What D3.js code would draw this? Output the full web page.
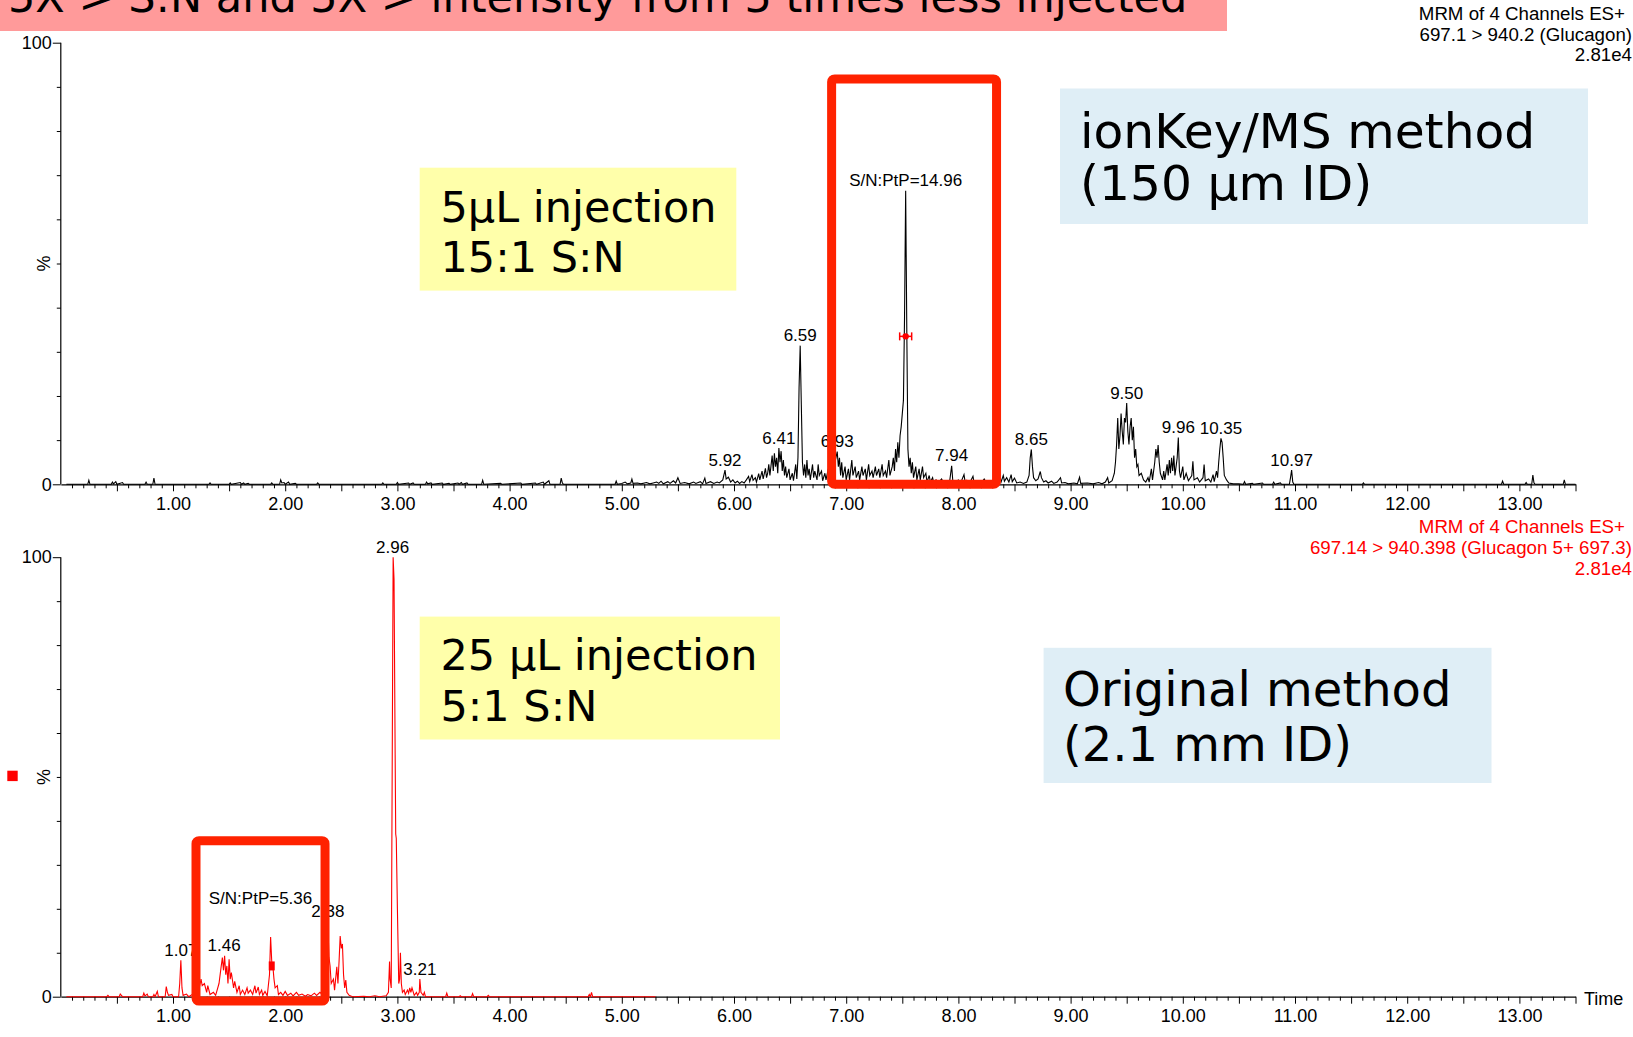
<!DOCTYPE html>
<html><head><meta charset="utf-8">
<script src="https://cdn.jsdelivr.net/npm/d3@7"></script>
<style>body{margin:0;background:#fff;overflow:hidden}svg{display:block}</style>
</head><body><svg id="c" width="1633" height="1037"></svg>
<script>
// ---------- DATA ----------
const topTrace = [[0.05,0],[0.24,0],[0.25,0.9],[0.26,0],[0.45,0],[0.46,0.5],[0.47,0.1],[0.49,0.6],[0.5,0],[0.55,0.4],[0.56,0],[0.75,0],[0.76,0.5],[0.77,0],[0.82,0],[0.83,1.4],[0.84,0],[1.32,0],[1.33,0.3],[1.34,0],[1.5,0],[1.51,0.3],[1.52,0],[1.6,0.4],[1.61,0],[1.63,0.3],[1.64,0],[1.67,0.2],[1.68,0],[1.87,0],[1.88,0.3],[1.89,0],[1.95,0],[1.96,1.0],[1.97,0.3],[1.99,0.4],[2.0,0],[2.03,0.5],[2.04,0],[2.09,0.2],[2.1,0],[2.28,0],[2.29,0.3],[2.3,0],[2.86,0],[2.87,0.3],[2.88,0],[2.99,0],[3.0,0.4],[3.01,0],[3.1,0.3],[3.11,0],[3.14,0.3],[3.15,0],[3.25,0],[3.26,0.5],[3.27,0.1],[3.3,0.3],[3.31,0],[3.4,0.3],[3.41,0],[3.46,0.2],[3.47,0],[3.54,0.3],[3.55,0],[3.57,0.4],[3.58,0],[3.62,0.3],[3.63,0],[3.75,0],[3.76,0.9],[3.77,0],[3.92,0.2],[3.93,0],[4.1,0.3],[4.11,0],[4.23,0.3],[4.24,0],[4.3,0.5],[4.31,0],[4.35,0.8],[4.36,0],[4.45,0],[4.46,1.4],[4.47,0.3],[4.48,0],[4.94,0],[4.95,0.7],[4.96,0],
[5.0,0.2],[5.03,0.5],[5.05,0.1],[5.08,0.3],[5.09,1.2],[5.1,0.2],[5.14,0.3],[5.17,0.1],[5.22,0.4],[5.25,0.1],[5.28,0.3],[5.31,0.5],[5.33,0.2],[5.35,0.7],[5.37,0.1],[5.41,0.6],[5.43,0.2],[5.46,0.8],[5.48,0.3],[5.5,1.5],[5.52,0.2],[5.56,0.4],[5.6,0.1],[5.64,0.5],[5.66,0.2],[5.7,0.6],[5.72,0.1],[5.74,1.4],[5.75,0.2],[5.79,0.6],[5.82,0.2],[5.85,0.5],[5.87,0.3],[5.9,1.0],[5.92,3.2],[5.93,1.2],[5.95,1.6],[5.97,0.5],[5.99,1.0],[6.01,0.3],[6.03,0.7],[6.05,0.2],[6.07,0.6],[6.09,0.3],[6.11,1.0],[6.13,1.8],[6.14,0.6],[6.16,2.2],[6.17,0.9],[6.19,1.5],[6.2,0.5],[6.22,2.4],[6.23,1.0],[6.25,3.0],[6.26,1.2],[6.28,3.6],[6.29,1.5],[6.3,2.5],[6.31,4.5],[6.32,2.0],[6.34,6.5],[6.35,3.0],[6.36,7.0],[6.37,4.0],[6.38,6.0],[6.39,2.5],[6.4,8.2],[6.41,5.0],[6.42,7.5],[6.43,3.0],[6.44,5.5],[6.45,2.0],[6.46,4.0],[6.47,1.5],[6.49,3.5],[6.5,1.0],[6.52,2.5],[6.53,0.8],[6.55,4.5],[6.56,1.2],[6.57,6],[6.58,22],[6.59,31.4],[6.6,18],[6.61,5],[6.62,2],[6.63,4.5],[6.64,1.5],[6.65,5.5],[6.66,2],[6.67,3.5],[6.68,1],[6.7,4.5],[6.71,1.5],[6.72,3],[6.74,1],[6.75,4.5],[6.76,2],[6.78,3],[6.79,0.8],[6.81,2.5],[6.82,1],[6.84,3.5],[6.85,1.5],[6.87,4.5],[6.88,2],[6.9,5],[6.92,7.4],[6.93,4],[6.94,6],[6.95,2],[6.96,5],[6.97,1.5],[6.99,4],[7.0,1],[7.02,3.5],[7.03,1],[7.05,5.5],[7.06,2],[7.08,4],[7.09,1.5],[7.11,3],[7.12,1],[7.14,4],[7.15,2],[7.17,3.5],[7.18,1],[7.2,4.5],[7.21,2],[7.23,3],[7.24,1.5],[7.26,4],[7.27,2],[7.29,3.5],[7.3,1.5],[7.32,4.5],[7.33,2],[7.35,3],[7.36,1.5],[7.38,5.5],[7.39,2],[7.41,4],[7.42,6],[7.43,3],[7.44,8],[7.45,5],[7.46,9.5],[7.47,6],[7.48,11],[7.49,13],[7.5,16],[7.51,19],[7.52,38],[7.53,66.5],[7.54,35],[7.55,8],[7.56,4],[7.57,6],[7.58,2.5],[7.59,5],[7.6,1.5],[7.62,4],[7.63,1],[7.65,3.5],[7.66,1],[7.68,4],[7.69,1.5],[7.71,2.5],[7.72,0.5],[7.74,2],[7.75,0.5],[7.77,1.5],[7.78,0.3],[7.8,1],[7.82,0.3],[7.85,1.2],[7.87,0.3],[7.9,0.8],[7.92,0.3],[7.94,4.2],[7.95,0.8],[7.97,0.5],[8.0,1],[8.02,0.3],[8.05,2.2],[8.06,0.5],[8.08,0.8],[8.1,0.3],[8.13,1.8],[8.14,0.3],[8.17,0.6],[8.2,0.2],[8.23,1.2],[8.25,0.3],[8.28,0.7],[8.3,0.2],[8.33,1.5],[8.35,0.5],[8.37,1.8],[8.38,0.5],[8.4,2],[8.41,0.7],[8.43,1.5],[8.45,0.5],[8.47,2.2],[8.48,0.6],[8.5,1.4],[8.52,0.3],[8.55,0.5],[8.58,0.2],[8.61,0.5],[8.63,2],[8.64,6],[8.65,7.9],[8.66,4],[8.67,1.5],[8.69,0.8],[8.71,1.2],[8.73,2.9],[8.74,1.5],[8.76,0.5],[8.78,0.8],[8.8,0.3],[8.83,0.7],[8.85,0.2],[8.88,0.5],[8.91,1.5],[8.92,0.3],[8.95,0.4],[8.98,0.1],[9.03,0.3],[9.06,0.1],[9.08,1.6],[9.09,0.2],[9.15,0.3],[9.2,0.1],[9.25,0.4],[9.28,0.1],[9.31,0.5],[9.33,1.5],[9.34,0.3],[9.37,0.8],[9.39,2.5],[9.4,5],[9.41,9],[9.42,15],[9.43,8],[9.44,11],[9.45,16],[9.46,12],[9.47,9],[9.48,15],[9.49,14],[9.5,18.4],[9.51,12],[9.52,9],[9.53,13],[9.54,15],[9.55,10],[9.56,13],[9.57,6],[9.58,8],[9.59,4],[9.6,4.5],[9.61,2],[9.63,2.5],[9.65,1],[9.67,0.5],[9.69,1.5],[9.7,0.5],[9.72,3.5],[9.73,1],[9.75,5],[9.76,8],[9.77,6],[9.78,8.9],[9.79,5],[9.8,2.5],[9.82,1],[9.83,3],[9.84,1],[9.86,4.5],[9.87,2],[9.88,5.5],[9.89,2.5],[9.9,6],[9.91,3],[9.92,6.5],[9.93,2],[9.94,4],[9.95,6],[9.96,10.6],[9.97,3],[9.98,1.5],[10.0,4],[10.01,1],[10.03,2.5],[10.05,0.8],[10.08,2],[10.09,5.2],[10.1,1],[10.13,1.5],[10.15,0.5],[10.18,1.5],[10.19,4.5],[10.2,0.8],[10.23,1.2],[10.25,0.5],[10.27,2.2],[10.28,0.6],[10.3,3],[10.31,1.5],[10.32,5],[10.33,8],[10.34,10.4],[10.35,9.5],[10.36,6],[10.37,2],[10.39,1],[10.41,0.3],[10.45,0.1],[10.5,0.1],[10.54,0],[10.55,0.6],[10.56,0],[10.62,0.2],[10.63,0],[10.71,0.3],[10.72,0],[10.8,0],[10.81,0.5],[10.82,0],[10.87,0.3],[10.88,0],[10.95,0],[10.96,1.5],[10.97,3.2],[10.98,0.5],[10.99,0],[11.6,0],[11.61,0.3],[11.62,0],[12.84,0],[12.85,0.7],[12.86,0],[13.05,0],[13.06,0.4],[13.07,0],[13.11,0],[13.12,2.1],[13.13,0.3],[13.14,0],[13.39,0],[13.4,1.0],[13.41,0],[13.5,0]];

const bottomTrace = [[0.05,0],[0.41,0],[0.42,0.3],[0.43,0],[0.52,0],[0.53,0.6],[0.54,0.3],[0.55,0],[0.73,0],[0.74,0.8],[0.75,0.2],[0.77,0.6],[0.78,0],[0.82,0],[0.83,0.5],[0.84,0],[0.86,1.2],[0.87,0],[0.93,0],[0.94,2.3],[0.95,1],[0.96,0.3],[0.99,0.5],[1.0,0],[1.05,0],[1.06,3],[1.07,8.3],[1.08,2],[1.09,0.3],[1.12,0.6],[1.14,0],[1.17,0.5],[1.2,0.2],[1.23,1.5],[1.25,4],[1.26,2.5],[1.28,3],[1.3,1],[1.31,2.5],[1.33,0.5],[1.36,1],[1.38,0.3],[1.41,3],[1.43,7],[1.44,8.9],[1.45,6],[1.46,9.3],[1.47,5],[1.48,7],[1.49,3],[1.5,8.5],[1.51,4],[1.52,5.5],[1.54,2],[1.55,3.5],[1.57,1],[1.59,2.5],[1.6,0.5],[1.62,1.5],[1.64,0.5],[1.66,2],[1.67,0.8],[1.69,1.5],[1.71,0.5],[1.73,2.5],[1.74,0.8],[1.76,2.2],[1.77,0.5],[1.79,1.5],[1.8,0.3],[1.82,1.2],[1.84,0.2],[1.86,5],[1.87,13.6],[1.88,8],[1.89,7],[1.9,4],[1.91,2],[1.93,2.5],[1.94,0.5],[1.96,1],[1.98,0.3],[2.0,1.2],[2.02,0.3],[2.05,0.8],[2.07,0.2],[2.1,1],[2.12,0.3],[2.15,0.6],[2.18,0.1],[2.2,0.5],[2.23,0.2],[2.26,0.8],[2.28,0.3],[2.31,1],[2.33,0.5],[2.35,5],[2.37,12],[2.38,17],[2.39,9],[2.4,7],[2.41,3],[2.43,4],[2.44,1.5],[2.46,6.8],[2.47,3],[2.48,8],[2.49,13.8],[2.5,11],[2.51,12],[2.52,5],[2.53,2],[2.54,3.8],[2.55,1],[2.57,0.3],[2.6,0],[2.7,0.1],[2.75,0],[2.8,0.2],[2.84,0],[2.9,0.2],[2.92,1],[2.93,8],[2.935,4],[2.945,2],[2.955,60],[2.962,100],[2.97,95],[2.98,55],[2.985,37],[2.99,36],[3.0,20],[3.012,3],[3.02,4],[3.027,10],[3.035,3],[3.045,1],[3.06,1.5],[3.07,0.5],[3.09,1.5],[3.1,0.8],[3.11,2],[3.12,1],[3.13,2],[3.15,0.3],[3.17,1],[3.18,0.3],[3.195,1],[3.2,4],[3.21,1],[3.23,0.3],[3.24,1],[3.25,0],[3.43,0],[3.44,0.8],[3.45,0],[3.55,0],[3.56,0.2],[3.57,0],[3.66,0],[3.67,0.7],[3.68,0],[3.8,0],[3.81,0.3],[3.82,0],[4.7,0],[4.71,0.5],[4.72,0],[4.73,1.0],[4.74,0],[5.3,0]];

const topPeakLabels = [[5.92,3.2,"5.92"],[6.40,8.2,"6.41"],[6.59,31.4,"6.59"],[6.92,7.4,"6.93"],[7.53,66.5,"S/N:PtP=14.96"],[7.94,4.2,"7.94"],[8.65,7.9,"8.65"],[9.50,18.4,"9.50"],[9.96,10.6,"9.96"],[10.34,10.4,"10.35"],[10.97,3.2,"10.97"]];
const bottomPeakLabels = [[2.957,100,"2.96"],[1.07,8.3,"1.07"],[1.455,9.3,"1.46"],[1.78,20.1,"S/N:PtP=5.36"],[2.38,17,"2.38"],[3.2,4,"3.21"]];

const xTickLabels = ["1.00","2.00","3.00","4.00","5.00","6.00","7.00","8.00","9.00","10.00","11.00","12.00","13.00"];
const yTickLabels = ["0","100"];

// highlight boxes [t0, t1, v0, v1]
const topHighlight = [6.87, 8.34, 0, 91.8];
const bottomHighlight = [1.205, 2.355, -1, 35.5];

const titleText = "5X > S:N and 5X > intensity from 5 times less injected";
const topHeader = ["MRM of 4 Channels ES+","697.1 > 940.2 (Glucagon)","2.81e4"];
const bottomHeader = ["MRM of 4 Channels ES+","697.14 > 940.398 (Glucagon 5+ 697.3)","2.81e4"];
const noteTopYellow = ["5μL injection","15:1 S:N"];
const noteTopBlue = ["ionKey/MS method","(150 μm ID)"];
const noteBotYellow = ["25 μL injection","5:1 S:N"];
const noteBotBlue = ["Original method","(2.1 mm ID)"];

// ---------- DRAW ----------
const svg = d3.select("#c");
const AX = "Liberation Sans, Arial, sans-serif";
const VF = "DejaVu Sans, Verdana, sans-serif";
const x = d3.scaleLinear().domain([0,13.5]).range([60.8,1575.5]);
const yTop = d3.scaleLinear().domain([0,100]).range([484.3,42.7]);
const yBot = d3.scaleLinear().domain([0,100]).range([996.7,557.2]);

// title banner
svg.append("rect").attr("x",0).attr("y",0).attr("width",1227).attr("height",31).attr("fill","#ff9a9a");
svg.append("text").attr("x",8).attr("y",12).attr("font-family",VF).attr("font-size",43).attr("fill","#000").text(titleText);

function axes(y, showTime){
  const minor = d3.range(1,136).filter(i=>i%5!==0).map(i=>i/10);
  const half = d3.range(1,28).map(i=>i/2);
  const gx = svg.append("g").attr("transform",`translate(0,${y(0)})`);
  gx.append("g").call(d3.axisBottom(x).tickValues(minor).tickSize(4).tickFormat("")).call(g=>g.select(".domain").remove());
  gx.append("g").call(d3.axisBottom(x).tickValues(half).tickSize(7).tickFormat("")).call(g=>g.select(".domain").remove());
  const lab = gx.append("g").call(d3.axisBottom(x).tickValues(xTickLabels.map(Number)).tickSize(0).tickPadding(13).tickFormat((d,i)=>xTickLabels[i]));
  lab.select(".domain").attr("stroke-width",1.2);
  lab.attr("font-family",AX).attr("font-size",18);
  lab.selectAll("text").attr("fill","#000");
  const gy = svg.append("g").attr("transform",`translate(${x(0)},0)`);
  gy.append("g").call(d3.axisLeft(y).tickValues(d3.range(10,100,10)).tickSize(4).tickFormat("")).call(g=>g.select(".domain").attr("d",`M0,${y(0)}V${y(100)}`).attr("stroke-width",1.2));
  const yl = gy.append("g").call(d3.axisLeft(y).tickValues(yTickLabels.map(Number)).tickSize(8).tickPadding(1).tickFormat((d,i)=>yTickLabels[i]));
  yl.select(".domain").remove();
  yl.attr("font-family",AX).attr("font-size",18);
  svg.append("text").attr("transform",`translate(50,${y(50)}) rotate(-90)`).attr("text-anchor","middle")
    .attr("font-family",AX).attr("font-size",18).text("%");
  if(showTime){
    svg.append("text").attr("x",1584).attr("y",y(0)+8).attr("font-family",AX).attr("font-size",18).text("Time");
  }
}
axes(yTop,false);
axes(yBot,true);

const lineTop = d3.line().x(d=>x(d[0])).y(d=>yTop(d[1]));
const lineBot = d3.line().x(d=>x(d[0])).y(d=>yBot(d[1]));
svg.append("path").attr("d",lineTop(topTrace)).attr("fill","none").attr("stroke","#000").attr("stroke-width",1.1);
svg.append("path").attr("d",lineBot(bottomTrace)).attr("fill","none").attr("stroke","#ff0000").attr("stroke-width",1.1);

function peakLabels(arr,y){
  svg.append("g").selectAll("text").data(arr).join("text")
    .attr("x",d=>x(d[0])).attr("y",d=>y(d[1])-4.5).attr("text-anchor","middle")
    .attr("font-family",AX).attr("font-size",17).attr("fill","#000").text(d=>d[2]);
}
peakLabels(topPeakLabels,yTop);
peakLabels(bottomPeakLabels,yBot);

// markers
const hx = x(7.53), hy = yTop(33.5);
const mk = svg.append("g").attr("stroke","#ff0000").attr("fill","#ff0000");
mk.append("line").attr("x1",hx-6).attr("x2",hx+6).attr("y1",hy).attr("y2",hy).attr("stroke-width",1.5);
mk.append("line").attr("x1",hx-6).attr("x2",hx-6).attr("y1",hy-4).attr("y2",hy+4).attr("stroke-width",1.5);
mk.append("line").attr("x1",hx+6).attr("x2",hx+6).attr("y1",hy-4).attr("y2",hy+4).attr("stroke-width",1.5);
mk.append("circle").attr("cx",hx).attr("cy",hy).attr("r",3.2).attr("stroke","none");
[7.79,8.06].forEach(t=>{
  const px=x(t), py=yTop(0);
  svg.append("path").attr("d",`M${px-4},${py-1}L${px+2},${py-5}L${px+2},${py+1}Z`).attr("fill","#ff0000");
});
svg.append("rect").attr("x",x(1.88)-3).attr("y",yBot(7)-4.5).attr("width",6).attr("height",9).attr("fill","#ff0000");
svg.append("rect").attr("x",7.3).attr("y",770.7).attr("width",10.4).attr("height",10.4).attr("fill","#ff0000");

// highlight boxes
function hbox(b,y){
  svg.append("rect").attr("x",x(b[0])).attr("y",y(b[3])).attr("width",x(b[1])-x(b[0])).attr("height",y(b[2])-y(b[3]))
    .attr("rx",3).attr("fill","none").attr("stroke","#ff2200").attr("stroke-width",9).attr("stroke-linejoin","round");
}
hbox(topHighlight,yTop);
hbox(bottomHighlight,yBot);

// headers
function header(lines,ys,rights,color){
  lines.forEach((s,i)=>svg.append("text").attr("x",rights[i]).attr("y",ys[i]).attr("text-anchor","end")
    .attr("font-family",AX).attr("font-size",18.7).attr("fill",color).text(s));
}
header(topHeader,[20,40.5,61],[1625,1632,1632],"#000");
header(bottomHeader,[533,554,575],[1625,1632,1632],"#ff0000");

// note boxes
function note(r,fill,lines,tx,bys,fs){
  svg.append("rect").attr("x",r[0]).attr("y",r[1]).attr("width",r[2]-r[0]).attr("height",r[3]-r[1]).attr("fill",fill);
  lines.forEach((s,i)=>svg.append("text").attr("x",tx).attr("y",bys[i]).attr("font-family",VF).attr("font-size",fs).attr("fill","#000").text(s));
}
note([419.7,167.7,736.3,290.6],"#ffffaa",noteTopYellow,440.5,[222,272],43);
note([1060,88.5,1588,224],"#dfeef6",noteTopBlue,1080,[148,200],48.7);
note([419.7,616.6,780,739.5],"#ffffaa",noteBotYellow,440.5,[670,721],43);
note([1043.6,647.8,1491.5,783],"#dfeef6",noteBotBlue,1063,[706,761],48);
</script></body></html>
